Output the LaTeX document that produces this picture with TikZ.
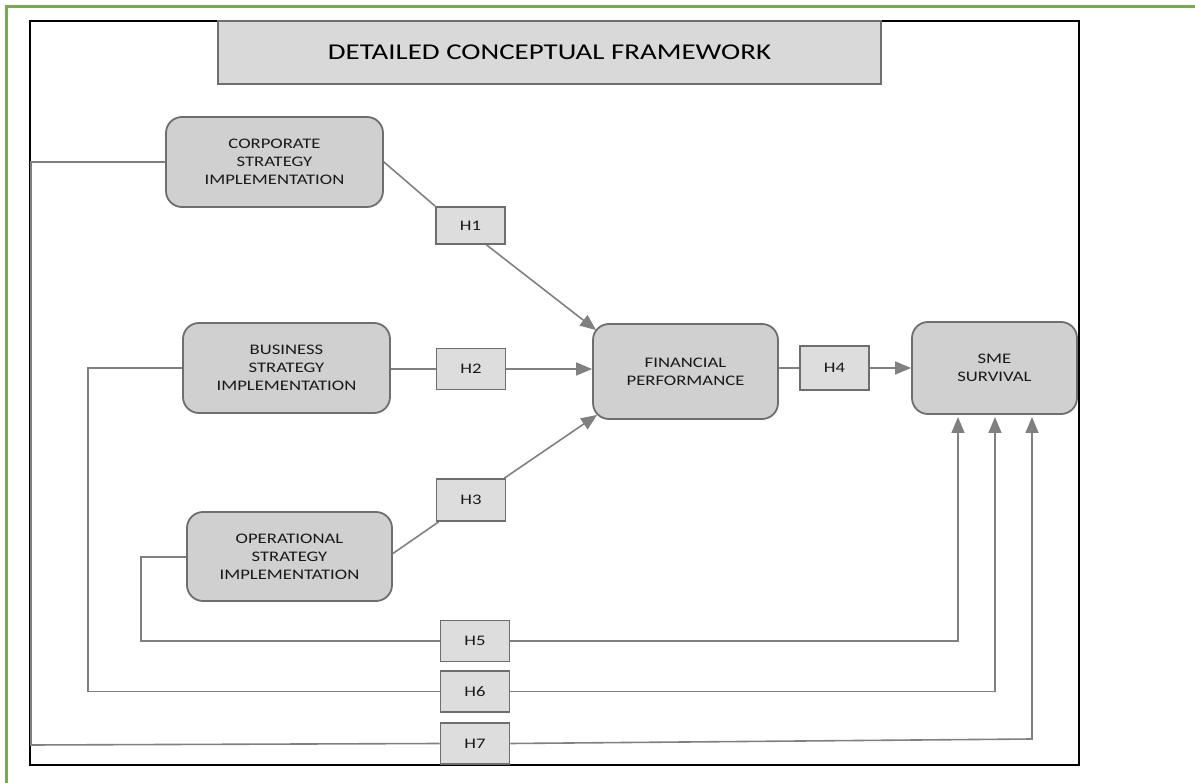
\documentclass[tikz,border=0pt]{standalone}
\usepackage{fontspec}
\setmainfont{Carlito}[FakeStretch=1.28]
\usetikzlibrary{arrows.meta}
\definecolor{boxfill}{RGB}{208,208,208}
\definecolor{hfill}{RGB}{221,221,221}
\definecolor{titlefill}{RGB}{217,217,217}
\definecolor{boxline}{RGB}{110,110,110}
\definecolor{conn}{RGB}{128,128,128}
\definecolor{framegreen}{RGB}{112,176,70}
\tikzset{
  rbox/.style={draw=boxline, line width=1.8pt, fill=boxfill, rounded corners=16pt,
    align=center, inner sep=0pt, font=\fontsize{14.6}{18}\selectfont, text=black!90},
  hbox/.style={draw=boxline, line width=1.8pt, fill=hfill, inner sep=0pt,
    minimum width=69pt, minimum height=41pt, font=\fontsize{14.6}{16}\selectfont, text=black!90},
  titlebox/.style={draw=boxline, line width=1.5pt, fill=titlefill, inner sep=0pt,
    minimum width=663pt, minimum height=63pt, font=\fontsize{22.6}{26}\selectfont, text=black},
  conline/.style={draw=conn, line width=1.6pt},
  arr/.style={conline, -{Triangle[length=16pt,width=13pt]}}
}
\begin{document}
\begin{tikzpicture}[x=1pt,y=-1pt]
\useasboundingbox (0,0) rectangle (1195,783);
% green outer frame
\draw[framegreen, line width=3pt] (6,790) -- (6,7) -- (1200,7);
% black frame
\draw[black, line width=2pt] (30,21) rectangle (1079,765);
% title
\node[titlebox] (title) at (549.5,52.5) {DETAILED CONCEPTUAL FRAMEWORK};
% main boxes
\node[rbox, minimum width=217pt, minimum height=90pt] (corp) at (274.5,162) {CORPORATE\\STRATEGY\\IMPLEMENTATION};
\node[rbox, minimum width=207pt, minimum height=90pt] (bus) at (286.5,368) {BUSINESS\\STRATEGY\\IMPLEMENTATION};
\node[rbox, minimum width=205pt, minimum height=89pt] (op) at (289.5,556.5) {OPERATIONAL\\STRATEGY\\IMPLEMENTATION};
\node[rbox, minimum width=185pt, minimum height=95pt] (fp) at (685.5,371.5) {FINANCIAL\\PERFORMANCE};
\node[rbox, minimum width=165pt, minimum height=92pt] (sme) at (994.5,368) {SME\\SURVIVAL};
% hypothesis boxes
\node[hbox, minimum height=37pt] (h1) at (470.5,225.5) {H1};
\node[hbox] (h2) at (471,369) {H2};
\node[hbox, minimum height=42pt] (h3) at (471,500) {H3};
\node[hbox, minimum height=44pt] (h4) at (834.5,368) {H4};
\node[hbox] (h5) at (475,641) {H5};
\node[hbox] (h6) at (475,691.5) {H6};
\node[hbox] (h7) at (475,743.5) {H7};
% free end points
\coordinate (c1a) at (31,162);
\coordinate (c1b) at (31,745);
\coordinate (c2a) at (88,368);
\coordinate (c2b) at (88,691.5);
\coordinate (c3a) at (141,557);
\coordinate (c3b) at (141,641);
\coordinate (s5) at (958,417);
\coordinate (s6) at (995,417);
\coordinate (s7b) at (1032,739);
\coordinate (s7) at (1032,417);
% H1 path
\draw[conline] (corp.east) -- (h1.north west);
\draw[arr] ([xshift=16pt]h1.south) -- ([shift={(4,7)}]fp.north west);
% H2 path
\draw[conline] (h2.west -| bus.east) -- (h2.west);
\draw[arr] (h2.east) -- (h2.east -| fp.west);
% H3 path
\draw[conline] ([yshift=3pt]op.east) -- ([xshift=3pt]h3.south west);
\draw[arr] ([xshift=-2pt]h3.north east) -- ([shift={(5,-5)}]fp.south west);
% H4 path
\draw[conline] (h4.west -| fp.east) -- (h4.west);
\draw[arr] (h4.east) -- (h4.east -| sme.west);
% H5-H7 paths
\draw[conline] (op.west |- c3a) -- (c3a) -- (c3b) -- (h5.west);
\draw[arr] (h5.east) -| (s5);
\draw[conline] (bus.west) -- (c2a) -- (c2b) -- (h6.west);
\draw[arr] (h6.east) -| (s6);
\draw[conline] (corp.west) -- (c1a) -- (c1b) -- (h7.west);
\draw[arr] (h7.east) -- (s7b) -- (s7);
\end{tikzpicture}
\end{document}
